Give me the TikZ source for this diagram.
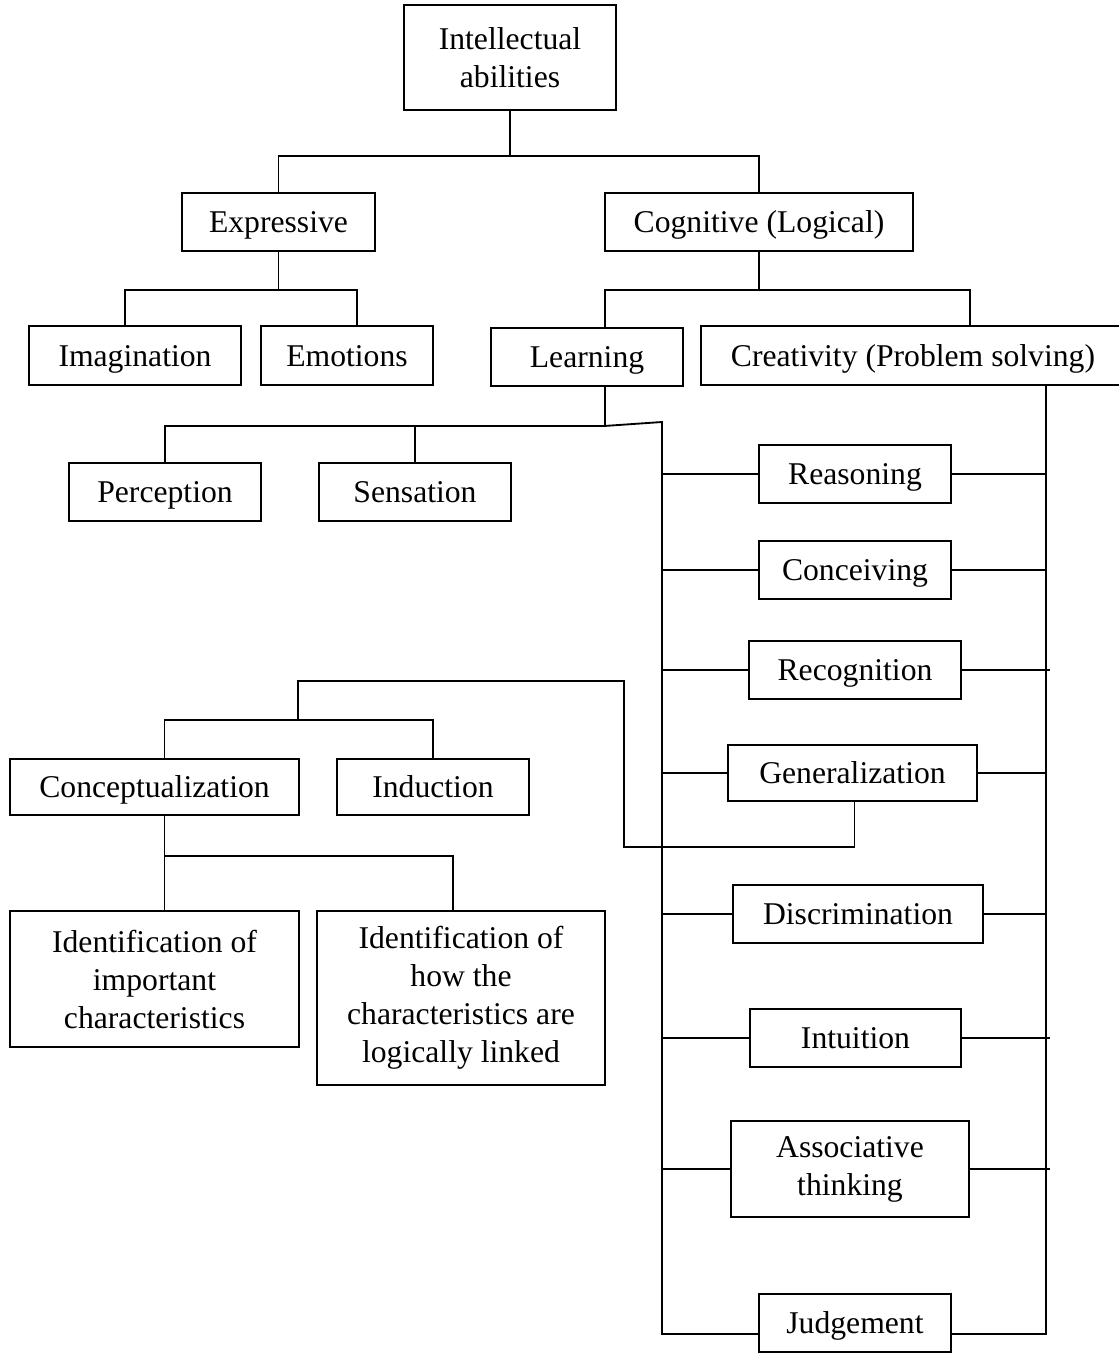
\documentclass[tikz,border=0pt]{standalone}
\usepackage{fontspec}
\setmainfont{Liberation Serif}
\newdimen\px \px=0.379pt
\tikzstyle{block} = [rectangle, draw, text centered, align=center, line width=0.7pt,
inner sep=2pt, font=\fontsize{12}{14.4}\selectfont]
\tikzstyle{oneline} = [text height=10pt, text depth=2pt]
\tikzstyle{sblock} = [block, oneline, minimum width=192\px, minimum height=58\px]
\tikzstyle{line} = [draw, line width=0.7pt]

\begin{document}
\begin{tikzpicture}[x=0.379pt, y=-0.379pt]

   \useasboundingbox (0,0) rectangle (1119,1353);

   \node[block, minimum width=212\px, minimum height=105\px] (IA) at (510,57.5) {Intellectual\\abilities};

   \node[block, oneline, minimum width=193\px, minimum height=58\px] (Exp) at (278.5,222) {Expressive};
   \node[block, oneline, minimum width=308\px, minimum height=58\px] (Cog) at (759,222) {Cognitive (Logical)};

   \node[block, oneline, minimum width=212\px, minimum height=59\px] (Imag) at (135,355.5) {Imagination};
   \node[block, oneline, minimum width=172\px, minimum height=59\px] (Emo) at (347,355.5) {Emotions};
   \node[sblock] (Learn) at (587,357) {Learning};
   \node[block, oneline, minimum width=424\px, minimum height=59\px] (Creat) at (913,355.5) {Creativity (Problem solving)};

   \node[sblock] (Perc) at (165,492) {Perception};
   \node[sblock] (Sens) at (415,492) {Sensation};

   % Abilities between the two spines
   \node[sblock] (Reas) at (855,474) {Reasoning};
   \node[sblock] (Conc) at (855,570) {Conceiving};
   \node[block, oneline, minimum width=212\px, minimum height=58\px] (Reco) at (855,670) {Recognition};
   \node[block, oneline, minimum width=249\px, minimum height=56\px] (Gen) at (852.5,773) {Generalization};
   \node[block, oneline, minimum width=250\px, minimum height=58\px] (Disc) at (858,914) {Discrimination};
   \node[block, oneline, minimum width=211\px, minimum height=58\px] (Intu) at (855.5,1038) {Intuition};
   \node[block, minimum width=238\px, minimum height=96\px] (Asso) at (850,1169) {Associative\\thinking};
   \node[sblock] (Judg) at (855,1323) {Judgement};

   % Generalization branch
   \node[block, oneline, minimum width=289\px, minimum height=56\px] (Concep) at (154.5,787) {Conceptualization};
   \node[sblock, minimum height=56\px] (Ind) at (433,787) {Induction};
   \node[block, minimum width=289\px, minimum height=136\px] (Id1) at (154.5,979) {Identification of\\important\\characteristics};
   \node[block, minimum width=288\px, minimum height=174\px] (Id2) at (461,998) {Identification of\\how the\\characteristics are\\logically linked};

   \coordinate (spL) at (662,422);
   \coordinate (spR) at ([xshift=133\px]Creat.south);
   \coordinate (jGen) at (624,847);
   \coordinate (jTop) at (298,681);
   \coordinate (jCon) at (298,720);

   %% Lines

   \path[line] (IA.south) -- ++(0,45) -| (Exp.north);
   \path[line] (IA.south) ++(0,45) -| (Cog.north);

   \path[line] (Exp.south) -- ++(0,38) -| ([xshift=-10\px]Imag.north);
   \path[line] (Exp.south) ++(0,38) -| ([xshift=10\px]Emo.north);
   \path[line] (Cog.south) -- ++(0,38) -| ([xshift=18\px]Learn.north);
   \path[line] (Cog.south) ++(0,38) -| ([xshift=57\px]Creat.north);

   \path[line] ([xshift=18\px]Learn.south) -- ++(0,39) -| (Perc.north);
   \path[line] ([xshift=18\px]Learn.south) ++(0,39) -| (Sens.north);
   \path[line] ([xshift=18\px]Learn.south) ++(0,39) -- (spL) |- ([yshift=-11\px]Judg.west);
   \path[line] (spR) |- ([yshift=-11\px]Judg.east);

   % Branches off the spines
   \foreach \n/\e in {Reas/0,Conc/0,Reco/4,Gen/0,Disc/0,Intu/4,Asso/4} {
      \path[line] (\n.west -| spL) -- (\n.west);
      \path[line] (\n.east) -- ([xshift=\e\px]\n.east -| spR);
   }

   \path[line] ([xshift=2\px]Gen.south) |- (jGen) |- (jTop) -- (jCon);
   \path[line] ([xshift=10\px]Concep.north) |- (jCon) -| (Ind.north);
   \path[line] ([xshift=10\px]Concep.south) -- ([xshift=10\px]Id1.north);
   \path[line] ([xshift=10\px]Concep.south) ++(0,40) -| ([xshift=-8\px]Id2.north);

\end{tikzpicture}
\end{document}
